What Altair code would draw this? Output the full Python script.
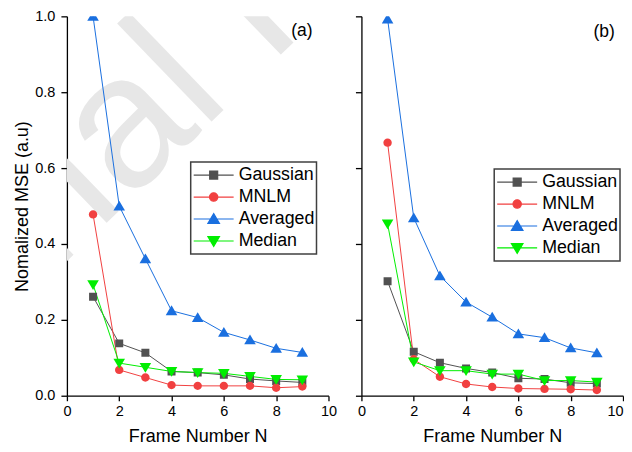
import altair as alt
import pandas as pd

FONT = "Liberation Sans"

frames = [1, 2, 3, 4, 5, 6, 7, 8, 9]
series_names = ["Gaussian", "MNLM", "Averaged", "Median"]
series_colors = ["#515151", "#f14040", "#1a6fdf", "#00ee00"]

# panel (a)
a_gaussian = [0.261, 0.138, 0.113, 0.064, 0.061, 0.055, 0.044, 0.039, 0.035]
a_mnlm = [0.478, 0.068, 0.048, 0.028, 0.026, 0.026, 0.026, 0.021, 0.024]
a_averaged = [1.000, 0.500, 0.361, 0.224, 0.206, 0.167, 0.147, 0.125, 0.114]
a_median = [0.293, 0.086, 0.075, 0.064, 0.061, 0.059, 0.051, 0.043, 0.042]

# panel (b)
b_gaussian = [0.302, 0.116, 0.087, 0.072, 0.061, 0.046, 0.044, 0.034, 0.032]
b_mnlm = [0.667, 0.096, 0.050, 0.031, 0.023, 0.019, 0.018, 0.017, 0.015]
b_averaged = [0.993, 0.469, 0.316, 0.247, 0.207, 0.163, 0.153, 0.126, 0.113]
b_median = [0.453, 0.089, 0.066, 0.066, 0.057, 0.057, 0.040, 0.040, 0.036]

x_ticks = list(range(0, 11))
y_ticks = [round(i / 10, 1) for i in range(11)]

# plot markers
marker_paths = [
    "M-0.2,-0.2L0.2,-0.2L0.2,0.2L-0.2,0.2Z",
    "M0.21,0A0.21,0.21,0,1,1,-0.21,0A0.21,0.21,0,1,1,0.21,0Z",
    "M0,-0.27L0.29,0.22L-0.29,0.22Z",
    "M0,0.27L0.29,-0.22L-0.29,-0.22Z",
]
# legend keys: line segment plus marker
legend_paths = ["M-1,0L1,0M" + p[1:] for p in marker_paths]


def make_df(values):
    rows = []
    for name, vals in zip(series_names, values):
        for n, v in zip(frames, vals):
            rows.append({"Series": name, "N": n, "MSE": v})
    return pd.DataFrame(rows)


df_a = make_df([a_gaussian, a_mnlm, a_averaged, a_median])
df_b = make_df([b_gaussian, b_mnlm, b_averaged, b_median])

color_scale = alt.Scale(domain=series_names, range=series_colors)
shape_scale = alt.Scale(domain=series_names, range=marker_paths)
legend_shape_scale = alt.Scale(domain=series_names, range=legend_paths)

major_x = "datum.value % 2 == 0"
major_y = "abs(datum.value * 5 - round(datum.value * 5)) < 0.001"

W, H = 262, 380


def panel(df, tag, tag_x, tag_y, first, legend_x, legend_y):
    x_axis_kw = dict(
        values=x_ticks,
        labelExpr=f"{major_x} ? datum.label : ''",
        tickSize={"condition": {"test": major_x, "value": 5}, "value": 3},
        title="Frame Number N",
        labelPadding=4,
        titlePadding=9,
    )
    if not first:
        x_axis_kw["labelAlign"] = {
            "condition": {"test": "datum.value == 10", "value": "right"},
            "value": "center",
        }
    x_enc = alt.X("N:Q", scale=alt.Scale(domain=[0, 10], nice=False), axis=alt.Axis(**x_axis_kw))
    if first:
        y_axis = alt.Axis(
            values=y_ticks,
            labelExpr=f"{major_y} ? format(datum.value, '.1f') : ''",
            tickSize={"condition": {"test": major_y, "value": 6}, "value": 3},
            title="Nomalized MSE (a.u)",
            labelPadding=6,
            titlePadding=3,
        )
    else:
        y_axis = alt.Axis(
            values=y_ticks,
            labels=False,
            tickSize={"condition": {"test": major_y, "value": 6}, "value": 3},
            title=None,
        )
    y_enc = alt.Y("MSE:Q", scale=alt.Scale(domain=[0, 1], nice=False), axis=y_axis)

    leg = alt.Legend(
        title=None,
        orient="none",
        legendX=legend_x,
        legendY=legend_y,
        symbolSize=1600,
        symbolStrokeWidth=1.2,
        clipHeight=22,
        rowPadding=0,
        labelOffset=4,
        padding=2,
        strokeColor="#404040",
        fillColor="white",
        labelFont=FONT,
        labelFontSize=17.8,
        labelColor="black",
    )

    base = alt.Chart(df)
    lines = base.mark_line(strokeWidth=1, clip=True).encode(
        x=x_enc,
        y=y_enc,
        color=alt.Color("Series:N", scale=color_scale, legend=None, sort=series_names),
    )
    points = base.mark_point(filled=True, size=1600, opacity=1, strokeWidth=0, clip=True).encode(
        x=x_enc,
        y=y_enc,
        fill=alt.Fill("Series:N", scale=color_scale, legend=None, sort=series_names),
        shape=alt.Shape("Series:N", scale=shape_scale, legend=None, sort=series_names),
    )
    legend_layer = (
        base.mark_point(filled=True, size=1600, opacity=1, strokeWidth=1.2)
        .encode(
            x=x_enc,
            y=y_enc,
            fill=alt.Fill("Series:N", scale=color_scale, legend=leg, sort=series_names),
            stroke=alt.Stroke("Series:N", scale=color_scale, legend=leg, sort=series_names),
            shape=alt.Shape("Series:N", scale=legend_shape_scale, legend=leg, sort=series_names),
        )
        .transform_filter("false")
    )
    tag_text = alt.Chart(pd.DataFrame({"t": [tag]})).mark_text(
        font=FONT, fontSize=17.5, color="black", align="center", baseline="middle"
    ).encode(x=alt.datum(tag_x), y=alt.datum(tag_y), text="t:N")

    layers = []
    if first:
        wm = pd.DataFrame({"t": ["Journal"]})
        wm2 = pd.DataFrame({"t": ["Pre-proof"]})
        layers.append(
            alt.Chart(wm).mark_text(
                font=FONT, fontSize=188, color="#e7e7e7", align="right",
                baseline="alphabetic", angle=316, clip=True
            ).encode(x=alt.datum(6.33), y=alt.datum(0.776), text="t:N")
        )
        layers.append(
            alt.Chart(wm2).mark_text(
                font=FONT, fontSize=188, color="#e7e7e7", align="left",
                baseline="alphabetic", angle=316, dx=52, clip=True
            ).encode(x=alt.datum(6.33), y=alt.datum(0.776), text="t:N")
        )
    layers += [lines, points, legend_layer, tag_text]
    return (
        alt.layer(*layers)
        .resolve_scale(fill="independent", stroke="independent", shape="independent")
        .properties(width=W, height=H)
    )


left = panel(df_a, "(a)", 8.98, 0.962, True, 124, 146)
right = panel(df_b, "(b)", 9.28, 0.958, False, 133, 153)

chart = (
    alt.hconcat(left, right, spacing=33, bounds="flush")
    .configure_view(stroke=None)
    .configure_axis(
        grid=False,
        domainColor="black",
        domainWidth=1.3,
        tickColor="black",
        tickWidth=1.3,
        labelFont=FONT,
        labelFontSize=14.5,
        labelColor="black",
        labelFlush=False,
        labelOverlap=False,
        titleFont=FONT,
        titleFontSize=18,
        titleFontWeight="normal",
        titleColor="black",
        zindex=1,
    )
    .configure_legend(strokeWidth=1.5)
    .properties(padding={"left": 5, "top": 0, "right": 0, "bottom": 0}, background="white")
)

chart.save("out.html", embed_options={"renderer": "svg", "actions": False})
